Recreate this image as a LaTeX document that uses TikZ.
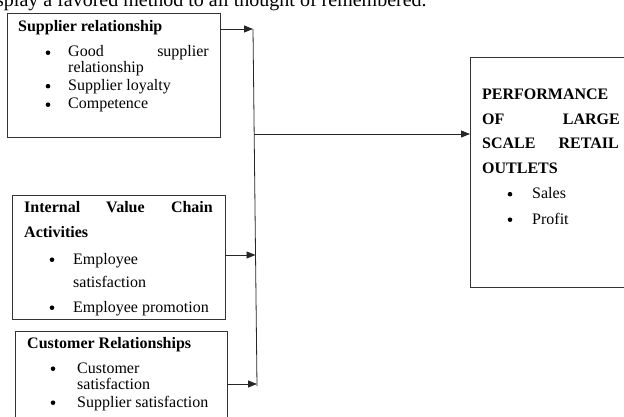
\documentclass[tikz,border=0pt]{standalone}
\usepackage{fontspec}
\setmainfont{Liberation Serif}
\usetikzlibrary{arrows.meta}
\begin{document}
\begin{tikzpicture}[x=1pt,y=-1pt,
  box/.style={draw=black!80, line width=0.8pt, inner sep=0pt, outer sep=0pt, anchor=north west},
  txt/.style={anchor=base west, inner sep=0pt, font=\fontsize{16}{18}\selectfont},
  txte/.style={txt, anchor=base east},
  btxt/.style={txt, font=\fontsize{16}{18}\selectfont\bfseries},
  btxte/.style={btxt, anchor=base east},
  bul/.style={circle, fill=black, inner sep=0pt, minimum size=4.6pt},
  conn/.style={draw=black!85, line width=0.8pt},
  arr/.style={conn, -{Triangle[length=9pt,width=7pt]}}]
\useasboundingbox (0,0) rectangle (624,417);
\clip (0,0) rectangle (624,417);
% page text cut at the top
\node[anchor=base west, inner sep=0pt, font=\fontsize{20}{22}\selectfont] (page) at (-4,7) {splay a favored method to all thought of remembered.};
% boxes
\node[box, minimum width=213pt, minimum height=124pt] (b1) at (7,13) {};
\node[box, minimum width=213pt, minimum height=124pt] (b2) at (12,195) {};
\node[box, minimum width=212pt, minimum height=110pt] (b3) at (15,331) {};
\node[box, minimum width=170pt, minimum height=230pt] (perf) at (470,57) {};
% box 1 text
\node[btxt] (t1) at (18,32) {Supplier relationship};
\node[bul] (b1a) at (48,52.7) {};
\node[txt] (t1a) at (68,57) {Good};
\node[txte] (t1b) at (209,57) {supplier};
\node[txt] (t1c) at (68,73) {relationship};
\node[bul] (b1b) at (48,86.2) {};
\node[txt] (t1d) at (68,90.5) {Supplier loyalty};
\node[bul] (b1c) at (48,104.7) {};
\node[txt] (t1e) at (68,109) {Competence};
% box 2 text
\node[btxt] (t2a) at (24,212.5) {Internal};
\node[btxt] (t2b) at (106,212.5) {Value};
\node[btxte] (t2c) at (213,212.5) {Chain};
\node[btxt] (t2d) at (24,237) {Activities};
\node[bul] (b2a) at (52,259.7) {};
\node[txt] (t2e) at (73,264) {Employee};
\node[txt] (t2f) at (73,287.5) {satisfaction};
\node[bul] (b2b) at (52,307.7) {};
\node[txt] (t2g) at (73,312) {Employee promotion};
% box 3 text
\node[btxt] (t3) at (27,348) {Customer Relationships};
\node[bul] (b3a) at (53,368.7) {};
\node[txt] (t3a) at (77,373) {Customer};
\node[txt] (t3b) at (77,389.5) {satisfaction};
\node[bul] (b3b) at (53,402.7) {};
\node[txt] (t3c) at (77,407) {Supplier satisfaction};
% performance box text
\node[btxt] (p1) at (482,100) {PERFORMANCE};
\node[btxt] (p2) at (482,124.5) {OF};
\node[btxte] (p3) at (620,124.5) {LARGE};
\node[btxt] (p4) at (482,149) {SCALE};
\node[btxte] (p5) at (619,149) {RETAIL};
\node[btxt] (p6) at (482,173.5) {OUTLETS};
\node[bul] (pb1) at (510,194.2) {};
\node[txt] (p7) at (532,198.5) {Sales};
\node[bul] (pb2) at (510,219.7) {};
\node[txt] (p8) at (532,224) {Profit};
% connector junctions
\coordinate (top) at (253,29);
\coordinate (bot) at (257,386);
\coordinate (j1) at (253,29);
\coordinate (j2) at (255.5,255);
\coordinate (j3) at (257,384);
\coordinate (jm) at (254.2,134);
\draw[conn] (top) -- (bot);
\draw[arr] (b1.east |- j1) -- (j1);
\draw[arr] (b2.east |- j2) -- (j2);
\draw[arr] (b3.east |- j3) -- (j3);
\draw[arr] (jm) -- (perf.west |- jm);
\end{tikzpicture}
\end{document}
